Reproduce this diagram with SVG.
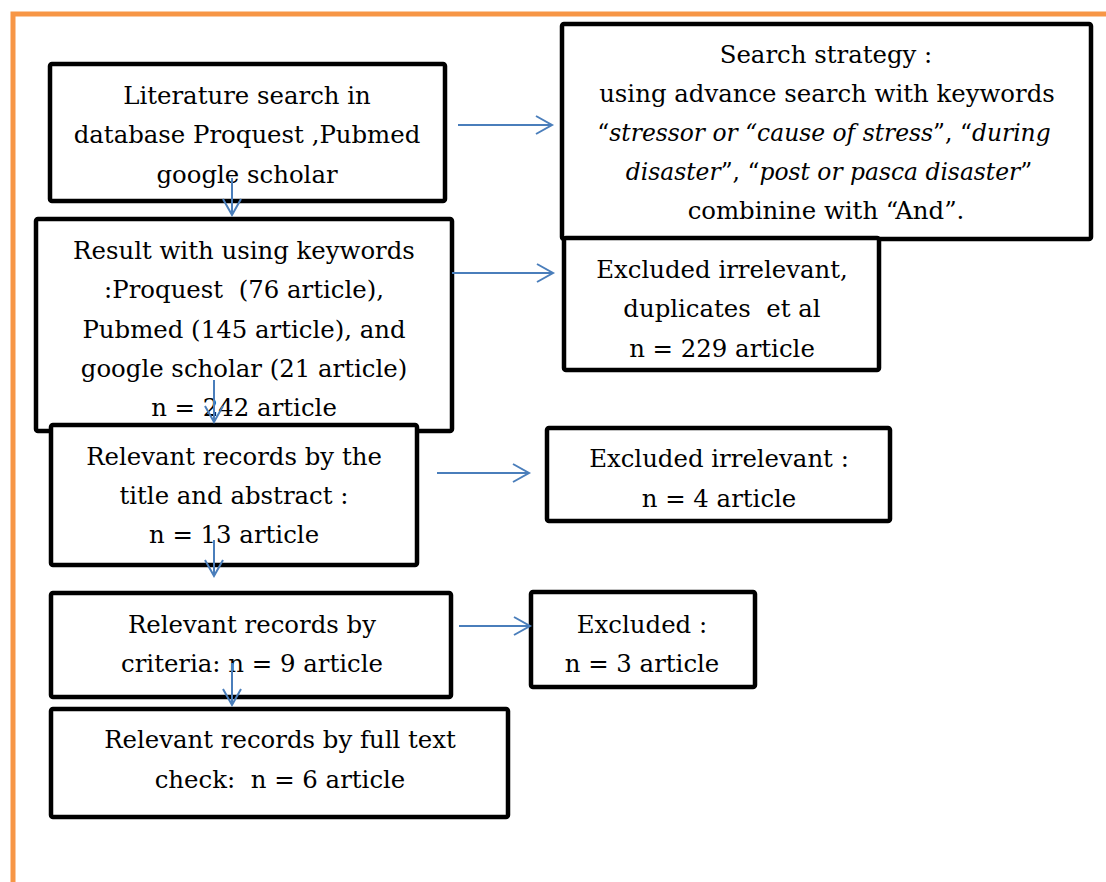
<svg xmlns="http://www.w3.org/2000/svg" width="1106" height="882" viewBox="0 0 1106 882">
<style>
.box{fill:#fff;stroke:#000;stroke-width:4.5}
.t{font-family:"DejaVu Serif","Liberation Serif",serif;font-size:24.4px;fill:#000;text-anchor:middle;white-space:pre}
.s{font-size:23.4px}
.i{font-style:italic}
.c{fill:none;stroke:#4a7ebb;stroke-width:2;marker-end:url(#ah)}
.frame{fill:none;stroke:#f79646;stroke-width:5}
</style>
<defs>
<marker id="ah" markerUnits="userSpaceOnUse" markerWidth="24" markerHeight="24" viewBox="-20 -12 24 24" refX="0" refY="0" orient="auto">
<path d="M -16 -9 L 0 0 L -16 9" fill="none" stroke="#4a7ebb" stroke-width="2"/>
</marker>
</defs>
<rect width="1106" height="882" fill="#fff"/>
<path class="frame" d="M 13 882 L 13 14 L 1106 14"/>
<g id="n1"><rect class="box" x="50" y="64" width="395" height="137" rx="2"/>
<text class="t" x="247" y="104">Literature search in</text>
<text class="t" x="247" y="143">database Proquest ,Pubmed</text>
<text class="t" x="247" y="183">google scholar</text></g>
<g id="n2"><rect class="box" x="562" y="24" width="529" height="215" rx="2"/>
<text class="t" x="826" y="63">Search strategy :</text>
<text class="t" x="827" y="102">using advance search with keywords</text>
<text class="t s" x="824" y="141">“<tspan class="i">stressor or “cause of stress</tspan>”, “<tspan class="i">during</tspan></text>
<text class="t s" x="829" y="180"><tspan class="i">disaster</tspan>”, “<tspan class="i">post or pasca disaster</tspan>”</text>
<text class="t" x="826" y="219">combinine with “And”.</text></g>
<g id="n3"><rect class="box" x="36" y="219" width="416" height="212" rx="2"/>
<text class="t" x="244" y="259">Result with using keywords</text>
<text class="t" x="244" y="298">:Proquest  (76 article),</text>
<text class="t" x="244" y="338">Pubmed (145 article), and</text>
<text class="t" x="244" y="377">google scholar (21 article)</text>
<text class="t" x="244" y="416">n = 242 article</text></g>
<g id="n4"><rect class="box" x="564" y="238" width="315" height="132" rx="2"/>
<text class="t" x="722" y="278">Excluded irrelevant,</text>
<text class="t" x="722" y="317">duplicates  et al</text>
<text class="t" x="722" y="357">n = 229 article</text></g>
<g id="n5"><rect class="box" x="51" y="425" width="366" height="140" rx="2"/>
<text class="t" x="234" y="465">Relevant records by the</text>
<text class="t" x="234" y="504">title and abstract :</text>
<text class="t" x="234" y="543">n = 13 article</text></g>
<g id="n6"><rect class="box" x="547" y="428" width="343" height="93" rx="2"/>
<text class="t" x="719" y="467">Excluded irrelevant :</text>
<text class="t" x="719" y="507">n = 4 article</text></g>
<g id="n7"><rect class="box" x="51" y="593" width="400" height="104" rx="2"/>
<text class="t" x="252" y="633">Relevant records by</text>
<text class="t" x="252" y="672">criteria: n = 9 article</text></g>
<g id="n8"><rect class="box" x="531" y="592" width="224" height="95" rx="2"/>
<text class="t" x="642" y="633">Excluded :</text>
<text class="t" x="642" y="672">n = 3 article</text></g>
<g id="n9"><rect class="box" x="51" y="709" width="457" height="108" rx="2"/>
<text class="t" x="280" y="748">Relevant records by full text</text>
<text class="t" x="280" y="788">check:  n = 6 article</text></g>
<g id="connectors">
<line class="c" x1="458" y1="125" x2="552" y2="125"/>
<line class="c" x1="452" y1="273" x2="553" y2="273"/>
<line class="c" x1="437" y1="473" x2="529" y2="473"/>
<line class="c" x1="459" y1="626" x2="530" y2="626"/>
<line class="c" x1="232" y1="178" x2="232" y2="215"/>
<line class="c" x1="214" y1="380" x2="214" y2="422"/>
<line class="c" x1="214" y1="540" x2="214" y2="576"/>
<line class="c" x1="232" y1="663" x2="232" y2="705"/>
</g>
</svg>
